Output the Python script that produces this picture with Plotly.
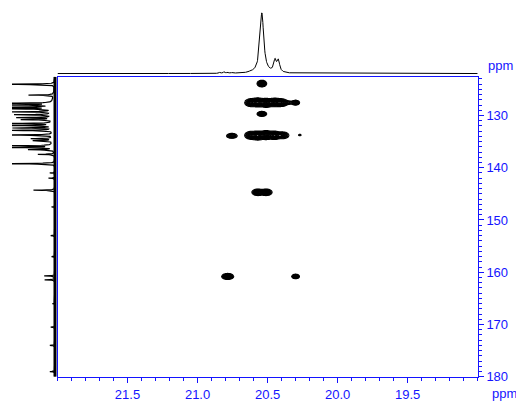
import numpy as np
import plotly.graph_objects as go

# ---------------- data ----------------
# F2 (1H) top projection: peak centres (ppm), heights, half-widths
top_ppm = [20.541, 20.447, 20.423, 20.84, 20.81, 20.785, 20.75, 20.62]
top_h = [1.0, 0.19, 0.19, 0.02, 0.025, 0.02, 0.018, 0.015]
top_w = [0.016, 0.011, 0.011, 0.006, 0.006, 0.006, 0.006, 0.01]

# F1 (13C) left projection: peak centres (ppm), heights
left_ppm = [124.04, 126.1, 127.66, 127.98, 128.41, 128.73, 129.3, 129.86,
            130.42, 130.8, 131.54, 131.92, 132.39, 132.86, 133.74, 134.45,
            134.83, 135.8, 136.14, 136.55, 137.45, 139.23, 144.3, 160.7, 161.45,
            141.0, 142.0, 147.5, 153.0, 157.0, 166.0, 170.5, 174.0, 179.0]
left_h = [1.4, 0.58, 1.3, 1.2, 1.3, 1.1, 0.93, 0.85,
          0.8, 0.7, 1.1, 1.0, 0.95, 1.1, 1.2, 0.5,
          0.45, 1.2, 1.0, 0.6, 0.4, 1.2, 0.5, 0.25, 0.25,
          0.12, 0.15, 0.08, 0.1, 0.08, 0.06, 0.1, 0.12, 0.12]
left_hump_ppm = [129.5, 135.0]
left_hump_h = [0.08, 0.06]
left_hump_w = [2.5, 1.2]

# 2D cross peaks: F2 ppm, F1 ppm, height, F2 width, F1 width
cp_x = [20.541, 20.62, 20.57, 20.51, 20.45, 20.40, 20.35, 20.30,
        20.541, 20.62, 20.57, 20.51, 20.45, 20.39, 20.755, 20.27,
        20.57, 20.51, 20.785, 20.30]
cp_y = [123.9, 127.55, 127.5, 127.6, 127.5, 127.55, 127.55, 127.55,
        129.7, 133.8, 133.85, 133.75, 133.8, 133.8, 133.9, 133.75,
        144.7, 144.7, 160.8, 160.8]
cp_h = [1.0, 0.7, 1.0, 1.0, 1.0, 0.8, 0.3, 0.6,
        1.0, 0.7, 1.0, 1.0, 0.9, 0.6, 0.6, 0.2,
        0.9, 0.9, 1.0, 0.7]
cp_sx = [0.016, 0.022, 0.022, 0.022, 0.022, 0.022, 0.02, 0.015,
         0.016, 0.022, 0.022, 0.022, 0.022, 0.022, 0.02, 0.008,
         0.02, 0.02, 0.02, 0.014]
cp_sy = [0.3, 0.38, 0.4, 0.4, 0.38, 0.36, 0.2, 0.25,
         0.22, 0.38, 0.4, 0.4, 0.38, 0.34, 0.25, 0.12,
         0.3, 0.3, 0.27, 0.22]

x_ticks = [21.5, 21.0, 20.5, 20.0, 19.5]
y_ticks = [130, 140, 150, 160, 170, 180]
X_RANGE = [22.0, 19.0]
Y_RANGE = [180.0, 122.6]

BLUE = "rgb(20,20,255)"
FONT = "Liberation Sans, Arial, sans-serif"

# ---------------- build curves from peak lists ----------------
xg = np.arange(19.0, 22.0001, 0.002)
top = np.zeros_like(xg)
for c, h, w in zip(top_ppm, top_h, top_w):
    top += h * w**2 / ((xg - c)**2 + w**2)

yg = np.arange(122.6, 180.0001, 0.02)
left = np.zeros_like(yg)
for c, h in zip(left_ppm, left_h):
    w = 0.05
    left += h * w**2 / ((yg - c)**2 + w**2)
for c, h, w in zip(left_hump_ppm, left_hump_h, left_hump_w):
    left += h * np.exp(-((yg - c) / w)**2 / 2)

cx = np.arange(20.15, 20.95, 0.004)
cy = np.arange(122.6, 163.0, 0.06)
CX, CY = np.meshgrid(cx, cy)
Z = np.zeros_like(CX)
for x0, y0, h, sx, sy in zip(cp_x, cp_y, cp_h, cp_sx, cp_sy):
    Z += h * np.exp(-((CX - x0)**2 / (2 * sx**2) + (CY - y0)**2 / (2 * sy**2)))
Z = np.round(Z, 3)

# ---------------- figure ----------------
W, H = 516, 410
def px(x):
    return x / W
def py(y):
    return 1 - y / H

fig = go.Figure()

fig.add_trace(go.Contour(
    x=np.round(cx, 4).tolist(), y=np.round(cy, 3).tolist(), z=Z.tolist(),
    contours=dict(coloring="none", start=0.1, end=3.0, size=0.07),
    line=dict(color="black", width=1.1), showscale=False, hoverinfo="skip",
    xaxis="x", yaxis="y"))

fig.add_trace(go.Scatter(
    x=np.round(xg, 4).tolist(), y=np.round(top, 4).tolist(), mode="lines",
    line=dict(color="black", width=1), xaxis="x2", yaxis="y2",
    hoverinfo="skip", showlegend=False))

fig.add_trace(go.Scatter(
    x=[0, 0], y=[Y_RANGE[1], Y_RANGE[0]], mode="lines",
    line=dict(color="black", width=3), xaxis="x3", yaxis="y3",
    hoverinfo="skip", showlegend=False))
fig.add_trace(go.Scatter(
    x=np.round(left, 4).tolist(), y=np.round(yg, 3).tolist(), mode="lines",
    line=dict(color="black", width=1.2), xaxis="x3", yaxis="y3",
    hoverinfo="skip", showlegend=False))

main_xd = [px(57.5), px(477.7)]
main_yd = [py(384.3), py(78.3)]

fig.update_layout(
    width=W, height=H, autosize=False, margin=dict(l=0, r=0, t=0, b=0),
    paper_bgcolor="white", plot_bgcolor="white", showlegend=False,
    font=dict(family=FONT, size=13, color=BLUE),
    xaxis=dict(domain=main_xd, range=X_RANGE, anchor="y",
               tickmode="array", tickvals=x_ticks, tickformat=".1f",
               ticks="outside", ticklen=5, tickwidth=1, tickcolor=BLUE,
               minor=dict(tickmode="linear", tick0=0, dtick=0.1, ticks="outside",
                          ticklen=3, tickcolor=BLUE, showgrid=False),
               showline=True, linecolor=BLUE, linewidth=1.2, mirror=True,
               showgrid=False, zeroline=False,
               tickfont=dict(family=FONT, size=13, color=BLUE)),
    yaxis=dict(domain=main_yd, range=Y_RANGE, anchor="x", side="right",
               tickmode="array", tickvals=y_ticks,
               ticks="outside", ticklen=5, tickwidth=1, tickcolor=BLUE,
               minor=dict(tickmode="linear", tick0=0, dtick=1, ticks="outside",
                          ticklen=3, tickcolor=BLUE, showgrid=False),
               showline=True, linecolor=BLUE, linewidth=1.2, mirror=True,
               showgrid=False, zeroline=False,
               tickfont=dict(family=FONT, size=13, color=BLUE)),
    xaxis2=dict(domain=main_xd, range=X_RANGE, anchor="y2", visible=False),
    yaxis2=dict(domain=[py(76), py(8)], range=[-0.0162, 1.085], anchor="x2",
                visible=False),
    xaxis3=dict(domain=[px(12), px(57)], range=[1.0, -0.0465], anchor="y3",
                visible=False),
    yaxis3=dict(domain=main_yd, range=Y_RANGE, anchor="x3", visible=False),
    annotations=[
        dict(text="ppm", x=px(500), y=py(67), xref="paper", yref="paper",
             showarrow=False, font=dict(family=FONT, size=13, color=BLUE),
             xanchor="center", yanchor="middle"),
        dict(text="ppm", x=px(504), y=py(401.5), xref="paper", yref="paper",
             showarrow=False, font=dict(family=FONT, size=13, color=BLUE),
             xanchor="center", yanchor="middle"),
    ],
)

fig.write_html("out.html",
               config={"responsive": False, "displayModeBar": False},
               post_script="document.body.style.margin='0';"
                           "document.body.style.overflow='hidden';")
